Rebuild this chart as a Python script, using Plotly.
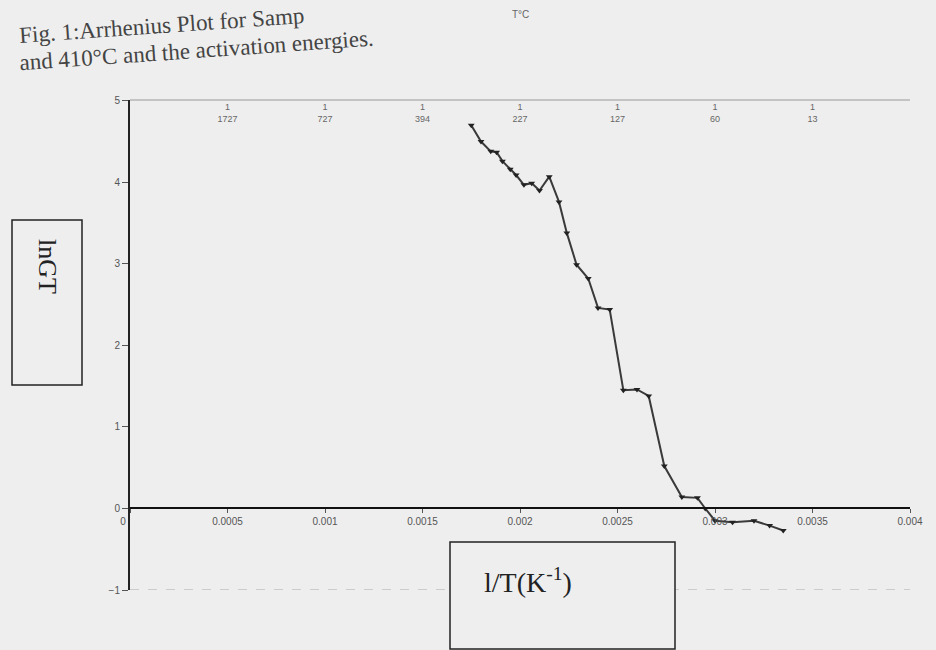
import plotly.graph_objects as go

# ---- data ----
inv_T = [0.00175, 0.00180, 0.00185, 0.00188, 0.00191, 0.00195, 0.00198, 0.00202,
         0.00206, 0.00210, 0.00215, 0.00220, 0.00224, 0.00229, 0.00235, 0.00240,
         0.00246, 0.00253, 0.00260, 0.00266, 0.00274, 0.00283, 0.00291, 0.00295,
         0.00300, 0.00309, 0.00320, 0.00328, 0.00335]
lnGT = [4.70, 4.50, 4.38, 4.37, 4.26, 4.16, 4.09, 3.97,
        3.99, 3.90, 4.07, 3.76, 3.38, 2.99, 2.82, 2.46,
        2.44, 1.45, 1.46, 1.38, 0.52, 0.14, 0.13, 0.00,
        -0.15, -0.17, -0.15, -0.21, -0.27]

x_ticks = [0, 0.0005, 0.001, 0.0015, 0.002, 0.0025, 0.003, 0.0035, 0.004]
x_tick_labels = ["0", "0.0005", "0.001", "0.0015", "0.002", "0.0025", "0.003", "0.0035", "0.004"]
top_ticks = [0.0005, 0.001, 0.0015, 0.002, 0.0025, 0.003, 0.0035]
top_tick_celsius = ["1727", "727", "394", "227", "127", "60", "13"]
y_ticks = [-1, 0, 1, 2, 3, 4, 5]

x_range = [0, 0.004]
y_range = [-1, 5.01]

title_lines = ["Fig. 1:Arrhenius Plot for Samp",
               "and 410\u00b0C and the activation energies."]

BG = "#eeeeee"
SERIF = "Liberation Serif"
SANS = "Liberation Sans"

L, R, T, B = 130, 26, 100, 60
W, H = 936, 650
PW, PH = W - L - R, H - T - B


def px(xp):
    return (xp - L) / PW


def py(yp):
    return (H - B - yp) / PH


# the "0" label sits left of the y axis in the original, so pad it with no-break spaces
shown_x_labels = [lab + "\u00a0" * 5 if lab == "0" else lab for lab in x_tick_labels]

fig = go.Figure()
fig.add_trace(go.Scatter(
    x=inv_T, y=lnGT, mode="lines+markers",
    line=dict(color="#3a3a3a", width=2),
    marker=dict(symbol="triangle-down", size=6, color="#222222"),
    xaxis="x", yaxis="y", showlegend=False,
))
# invisible trace to activate the top (temperature) axis
fig.add_trace(go.Scatter(x=x_range, y=[0, 0], xaxis="x2", yaxis="y", mode="lines",
                         line=dict(width=0), showlegend=False, hoverinfo="skip"))

zero_pos = (0 - y_range[0]) / (y_range[1] - y_range[0])

fig.update_layout(
    width=W, height=H,
    margin=dict(l=L, r=R, t=T, b=B),
    paper_bgcolor=BG, plot_bgcolor=BG,
    font=dict(family=SANS, size=10, color="#555555"),
    xaxis=dict(
        range=x_range, tickvals=x_ticks, ticktext=shown_x_labels,
        anchor="free", position=zero_pos,
        showline=True, linecolor="#111111", linewidth=2,
        ticks="outside", ticklen=4, tickcolor="#555555",
        showgrid=False, zeroline=False,
        tickfont=dict(family=SANS, size=10, color="#555555"),
    ),
    xaxis2=dict(
        range=x_range, overlaying="x", side="top", anchor="free", position=py(124),
        tickvals=top_ticks,
        ticktext=["1<br>" + c for c in top_tick_celsius],
        showline=False, ticks="", showgrid=False, zeroline=False,
        tickfont=dict(family=SANS, size=9, color="#666666"),
    ),
    yaxis=dict(
        range=y_range, tickvals=y_ticks,
        showline=True, linecolor="#222222", linewidth=2,
        ticks="outside", ticklen=6, tickcolor="#555555",
        showgrid=False, zeroline=False,
        tickfont=dict(family=SANS, size=10, color="#555555"),
    ),
)

# top border line of the plot area
fig.add_shape(type="line", xref="paper", yref="paper", x0=0, x1=1, y0=1, y1=1,
              line=dict(color="#999999", width=1))
# faint bottom border at y = -1
fig.add_shape(type="line", xref="x", yref="y", x0=x_range[0], x1=x_range[1],
              y0=y_range[0], y1=y_range[0],
              line=dict(color="#aaaaaa", width=1, dash="dash"))

# title (slightly tilted like the photographed page)
fig.add_annotation(xref="paper", yref="paper", x=px(16), y=py(26),
                   xanchor="left", yanchor="middle",
                   text=title_lines[0], showarrow=False, textangle=-4,
                   font=dict(family=SERIF, size=23, color="#444444"))
fig.add_annotation(xref="paper", yref="paper", x=px(16), y=py(50),
                   xanchor="left", yanchor="middle",
                   text=title_lines[1], showarrow=False, textangle=-4,
                   font=dict(family=SERIF, size=23, color="#444444"))

# T°C label for top axis
fig.add_annotation(xref="x", yref="paper", x=0.002, y=py(15), text="T\u00b0C", showarrow=False,
                   xanchor="center", yanchor="middle",
                   font=dict(family=SANS, size=10, color="#666666"))

# y-axis title box
fig.add_shape(type="rect", xref="paper", yref="paper",
              x0=px(12), x1=px(82), y0=py(385), y1=py(220),
              line=dict(color="#222222", width=1.5), fillcolor=BG, layer="above")
fig.add_annotation(xref="paper", yref="paper", x=px(48), y=py(266),
                   xanchor="center", yanchor="middle",
                   text="lnGT", textangle=90, showarrow=False,
                   font=dict(family=SERIF, size=26, color="#222222"))

# x-axis title box
fig.add_shape(type="rect", xref="paper", yref="paper",
              x0=px(450), x1=px(675), y0=py(649), y1=py(542),
              line=dict(color="#222222", width=1.5), fillcolor=BG, layer="above")
fig.add_annotation(xref="paper", yref="paper", x=px(528), y=py(580),
                   xanchor="center", yanchor="middle",
                   text="l/T(K<sup>-1</sup>)", showarrow=False,
                   font=dict(family=SERIF, size=28, color="#222222"))

fig.write_html("out.html", config={"displayModeBar": False},
               post_script="document.body.style.margin='0';")
